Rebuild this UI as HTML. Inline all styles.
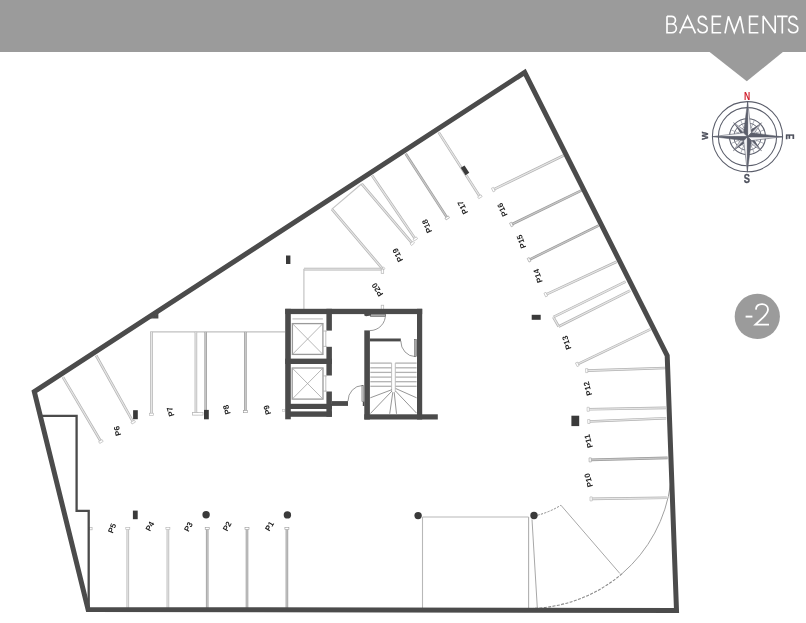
<!DOCTYPE html>
<html><head><meta charset="utf-8"><title>Basements -2</title>
<style>
html,body{margin:0;padding:0;background:#fff;}
body{width:806px;height:623px;overflow:hidden;font-family:"Liberation Sans",sans-serif;}
svg{display:block;font-family:"Liberation Sans",sans-serif;}
</style></head><body>
<svg width="806" height="623" viewBox="0 0 806 623">
<g opacity="0.999">
<rect x="0" y="0" width="806" height="52" fill="#9b9b9b"/>
<polygon points="709,51.5 783.5,51.5 746.8,81.3" fill="#9b9b9b"/>
<g role="img" aria-label="BASEMENTS" fill="none" stroke="#fff" stroke-width="1.65" stroke-linejoin="miter" stroke-miterlimit="3"><title>BASEMENTS</title>
<path d="M667 16.3 H671.6 A3.85 3.85 0 0 1 671.6 24 H667 M671.6 24 H672 A4.35 4.35 0 0 1 672 32.7 H667 V16.3"/>
<path d="M679.7 33.4 L687.6 16.2 L695.5 33.4 M682.7 27.3 H692.5"/>
<path d="M706.4 19.7 C705.7 17.5 704.3 16.3 702.4 16.3 C700.0 16.3 698.4 18 698.4 20.2 C698.4 25.6 707.2 23.2 707.2 28.5 C707.2 31 705.4 32.7 702.6 32.7 C700.0 32.7 698.3 31.3 697.8 28.7"/>
<path d="M721.2 16.3 H712.4 V32.7 H721.2 M712.4 24.2 H720.5"/>
<path d="M725 33.4 L728.4 16.4 L734.3 32.4 L740.2 16.4 L743.6 33.4"/>
<path d="M758.4 16.3 H749.6 V32.7 H758.4 M749.6 24.2 H757.7"/>
<path d="M763.2 33.4 V16 L775.2 33 V15.6"/>
<path d="M777 16.3 H787.6 M782.3 16.3 V33.4"/>
<path d="M797.0 19.7 C796.3 17.5 794.9 16.3 793.0 16.3 C790.6 16.3 789.0 18 789.0 20.2 C789.0 25.6 797.8 23.2 797.8 28.5 C797.8 31 796.0 32.7 793.2 32.7 C790.6 32.7 788.9 31.3 788.4 28.7"/>
</g>
<circle cx="757.3" cy="316.4" r="22.6" fill="#9b9b9b"/>
<line x1="745.6" y1="316.6" x2="752.4" y2="316.6" stroke="#fff" stroke-width="1.9"/>
<path d="M755.9 309.6 C756.1 305.6 758.9 304.2 762 304.2 C765.6 304.2 768 306.4 768 309.6 C768 312.4 766.3 314.4 763.2 317.4 L755.4 324.6 L769 324.6" fill="none" stroke="#fff" stroke-width="1.8" stroke-linejoin="miter"/>
<line x1="479.9" y1="196.7" x2="438.7" y2="132.4" stroke="#b2b2b2" stroke-width="2.6"/>
<line x1="479.9" y1="196.7" x2="438.7" y2="132.4" stroke="#e6e6e6" stroke-width="1.25"/>
<rect x="-1.1" y="-2.0" width="2.2" height="4.0" fill="#fff" stroke="#b2b2b2" stroke-width="0.6" transform="translate(479.9,196.7) rotate(-122.6)"/>
<line x1="447.2" y1="217.9" x2="405.7" y2="153.8" stroke="#9a9a9a" stroke-width="2.6"/>
<line x1="447.2" y1="217.9" x2="405.7" y2="153.8" stroke="#c8c8c8" stroke-width="1.25"/>
<rect x="-1.1" y="-2.0" width="2.2" height="4.0" fill="#fff" stroke="#9a9a9a" stroke-width="0.6" transform="translate(447.2,217.9) rotate(-122.9)"/>
<line x1="415.3" y1="238.9" x2="372.1" y2="175.6" stroke="#b2b2b2" stroke-width="2.6"/>
<line x1="415.3" y1="238.9" x2="372.1" y2="175.6" stroke="#e6e6e6" stroke-width="1.25"/>
<rect x="-1.1" y="-2.0" width="2.2" height="4.0" fill="#fff" stroke="#b2b2b2" stroke-width="0.6" transform="translate(415.3,238.9) rotate(-124.3)"/>
<line x1="412.3" y1="243.4" x2="361.7" y2="183.8" stroke="#b2b2b2" stroke-width="2.6"/>
<line x1="412.3" y1="243.4" x2="361.7" y2="183.8" stroke="#e6e6e6" stroke-width="1.25"/>
<rect x="-1.1" y="-2.0" width="2.2" height="4.0" fill="#fff" stroke="#b2b2b2" stroke-width="0.6" transform="translate(412.3,243.4) rotate(-130.3)"/>
<line x1="382.8" y1="269.1" x2="331.9" y2="209.1" stroke="#b2b2b2" stroke-width="2.6"/>
<line x1="382.8" y1="269.1" x2="331.9" y2="209.1" stroke="#e6e6e6" stroke-width="1.25"/>
<rect x="-1.1" y="-2.0" width="2.2" height="4.0" fill="#fff" stroke="#b2b2b2" stroke-width="0.6" transform="translate(382.8,269.1) rotate(-130.3)"/>
<line x1="331.9" y1="209.1" x2="361.7" y2="183.8" stroke="#c4c4c4" stroke-width="1.2"/>
<line x1="382.8" y1="269.1" x2="303.9" y2="269.1" stroke="#b2b2b2" stroke-width="2.6"/>
<line x1="382.8" y1="269.1" x2="303.9" y2="269.1" stroke="#e6e6e6" stroke-width="1.25"/>
<line x1="303.9" y1="269.1" x2="303.9" y2="309" stroke="#c4c4c4" stroke-width="1.2"/>
<rect x="381.2" y="269.1" width="2.5" height="4.2" fill="#fff" stroke="#b4b4b4" stroke-width="0.7"/>
<rect x="381.2" y="305.2" width="2.5" height="4.2" fill="#fff" stroke="#b4b4b4" stroke-width="0.7"/>
<line x1="493.3" y1="189.6" x2="563.6" y2="155.5" stroke="#b2b2b2" stroke-width="2.6"/>
<line x1="493.3" y1="189.6" x2="563.6" y2="155.5" stroke="#e6e6e6" stroke-width="1.25"/>
<rect x="-1.1" y="-2.0" width="2.2" height="4.0" fill="#fff" stroke="#b2b2b2" stroke-width="0.6" transform="translate(493.3,189.6) rotate(-25.9)"/>
<line x1="511.4" y1="224.5" x2="581.6" y2="190.4" stroke="#9a9a9a" stroke-width="2.6"/>
<line x1="511.4" y1="224.5" x2="581.6" y2="190.4" stroke="#c8c8c8" stroke-width="1.25"/>
<rect x="-1.1" y="-2.0" width="2.2" height="4.0" fill="#fff" stroke="#9a9a9a" stroke-width="0.6" transform="translate(511.4,224.5) rotate(-25.9)"/>
<line x1="529.1" y1="259.8" x2="598.5" y2="225.7" stroke="#9a9a9a" stroke-width="2.6"/>
<line x1="529.1" y1="259.8" x2="598.5" y2="225.7" stroke="#c8c8c8" stroke-width="1.25"/>
<rect x="-1.1" y="-2.0" width="2.2" height="4.0" fill="#fff" stroke="#9a9a9a" stroke-width="0.6" transform="translate(529.1,259.8) rotate(-26.2)"/>
<line x1="545.8" y1="294.6" x2="616.6" y2="261.8" stroke="#b2b2b2" stroke-width="2.6"/>
<line x1="545.8" y1="294.6" x2="616.6" y2="261.8" stroke="#e6e6e6" stroke-width="1.25"/>
<rect x="-1.1" y="-2.0" width="2.2" height="4.0" fill="#fff" stroke="#b2b2b2" stroke-width="0.6" transform="translate(545.8,294.6) rotate(-24.9)"/>
<line x1="553.3" y1="317.1" x2="625.6" y2="281.6" stroke="#b2b2b2" stroke-width="2.6"/>
<line x1="553.3" y1="317.1" x2="625.6" y2="281.6" stroke="#e6e6e6" stroke-width="1.25"/>
<line x1="558.7" y1="326.5" x2="630.1" y2="290.6" stroke="#b2b2b2" stroke-width="2.6"/>
<line x1="558.7" y1="326.5" x2="630.1" y2="290.6" stroke="#e6e6e6" stroke-width="1.25"/>
<line x1="553.3" y1="317.1" x2="558.7" y2="326.5" stroke="#b2b2b2" stroke-width="2.6"/>
<line x1="553.3" y1="317.1" x2="558.7" y2="326.5" stroke="#e6e6e6" stroke-width="1.25"/>
<line x1="577.3" y1="364.3" x2="650.3" y2="329.4" stroke="#b2b2b2" stroke-width="2.6"/>
<line x1="577.3" y1="364.3" x2="650.3" y2="329.4" stroke="#e6e6e6" stroke-width="1.25"/>
<rect x="-1.1" y="-2.0" width="2.2" height="4.0" fill="#fff" stroke="#b2b2b2" stroke-width="0.6" transform="translate(577.3,364.3) rotate(-25.6)"/>
<line x1="586.7" y1="370.6" x2="665.5" y2="368.0" stroke="#b2b2b2" stroke-width="2.6"/>
<line x1="586.7" y1="370.6" x2="665.5" y2="368.0" stroke="#e6e6e6" stroke-width="1.25"/>
<rect x="-1.1" y="-2.0" width="2.2" height="4.0" fill="#fff" stroke="#b2b2b2" stroke-width="0.6" transform="translate(586.7,370.6) rotate(-1.9)"/>
<line x1="588.2" y1="409.3" x2="665.9" y2="407.9" stroke="#b2b2b2" stroke-width="2.6"/>
<line x1="588.2" y1="409.3" x2="665.9" y2="407.9" stroke="#e6e6e6" stroke-width="1.25"/>
<rect x="-1.1" y="-2.0" width="2.2" height="4.0" fill="#fff" stroke="#b2b2b2" stroke-width="0.6" transform="translate(588.2,409.3) rotate(-1.0)"/>
<line x1="588.8" y1="421.5" x2="666.2" y2="418.2" stroke="#b2b2b2" stroke-width="2.6"/>
<line x1="588.8" y1="421.5" x2="666.2" y2="418.2" stroke="#e6e6e6" stroke-width="1.25"/>
<rect x="-1.1" y="-2.0" width="2.2" height="4.0" fill="#fff" stroke="#b2b2b2" stroke-width="0.6" transform="translate(588.8,421.5) rotate(-2.4)"/>
<line x1="590.2" y1="459.9" x2="667.6" y2="457.9" stroke="#9a9a9a" stroke-width="2.6"/>
<line x1="590.2" y1="459.9" x2="667.6" y2="457.9" stroke="#c8c8c8" stroke-width="1.25"/>
<rect x="-1.1" y="-2.0" width="2.2" height="4.0" fill="#fff" stroke="#9a9a9a" stroke-width="0.6" transform="translate(590.2,459.9) rotate(-1.5)"/>
<line x1="591.1" y1="498.9" x2="666.8" y2="497.8" stroke="#b2b2b2" stroke-width="2.6"/>
<line x1="591.1" y1="498.9" x2="666.8" y2="497.8" stroke="#e6e6e6" stroke-width="1.25"/>
<rect x="-1.1" y="-2.0" width="2.2" height="4.0" fill="#fff" stroke="#b2b2b2" stroke-width="0.6" transform="translate(591.1,498.9) rotate(-0.8)"/>
<line x1="100.9" y1="441.5" x2="62.9" y2="377.1" stroke="#b2b2b2" stroke-width="2.6"/>
<line x1="100.9" y1="441.5" x2="62.9" y2="377.1" stroke="#e6e6e6" stroke-width="1.25"/>
<rect x="-1.1" y="-2.0" width="2.2" height="4.0" fill="#fff" stroke="#b2b2b2" stroke-width="0.6" transform="translate(100.9,441.5) rotate(-120.5)"/>
<line x1="133.2" y1="422.1" x2="96.1" y2="355.5" stroke="#b2b2b2" stroke-width="2.6"/>
<line x1="133.2" y1="422.1" x2="96.1" y2="355.5" stroke="#e6e6e6" stroke-width="1.25"/>
<rect x="-1.1" y="-2.0" width="2.2" height="4.0" fill="#fff" stroke="#b2b2b2" stroke-width="0.6" transform="translate(133.2,422.1) rotate(-119.1)"/>
<line x1="150.2" y1="331.9" x2="285" y2="331.9" stroke="#c0c0c0" stroke-width="1.2"/>
<line x1="151.5" y1="414.3" x2="151.5" y2="331.9" stroke="#b2b2b2" stroke-width="2.6"/>
<line x1="151.5" y1="414.3" x2="151.5" y2="331.9" stroke="#e6e6e6" stroke-width="1.25"/>
<rect x="-1.1" y="-2.0" width="2.2" height="4.0" fill="#fff" stroke="#b2b2b2" stroke-width="0.6" transform="translate(151.5,414.3) rotate(-90.0)"/>
<line x1="195.9" y1="413.7" x2="195.9" y2="331.9" stroke="#b2b2b2" stroke-width="2.6"/>
<line x1="195.9" y1="413.7" x2="195.9" y2="331.9" stroke="#e6e6e6" stroke-width="1.25"/>
<rect x="-1.1" y="-2.0" width="2.2" height="4.0" fill="#fff" stroke="#b2b2b2" stroke-width="0.6" transform="translate(195.9,413.7) rotate(-90.0)"/>
<line x1="205.7" y1="411" x2="205.7" y2="331.9" stroke="#9a9a9a" stroke-width="2.6"/>
<line x1="205.7" y1="411" x2="205.7" y2="331.9" stroke="#c8c8c8" stroke-width="1.25"/>
<line x1="245.4" y1="411.6" x2="245.4" y2="331.9" stroke="#9a9a9a" stroke-width="2.6"/>
<line x1="245.4" y1="411.6" x2="245.4" y2="331.9" stroke="#c8c8c8" stroke-width="1.25"/>
<rect x="-1.1" y="-2.0" width="2.2" height="4.0" fill="#fff" stroke="#9a9a9a" stroke-width="0.6" transform="translate(245.4,411.6) rotate(-90.0)"/>
<rect x="192.6" y="412.6" width="10.4" height="2.5" fill="#fff" stroke="#b4b4b4" stroke-width="0.7"/>
<rect x="282.6" y="409.6" width="2.2" height="2" fill="#fff" stroke="#c4c4c4" stroke-width="0.6"/>
<line x1="127.8" y1="528.6" x2="127.8" y2="608" stroke="#b2b2b2" stroke-width="2.6"/>
<line x1="127.8" y1="528.6" x2="127.8" y2="608" stroke="#e6e6e6" stroke-width="1.25"/>
<rect x="-1.1" y="-2.0" width="2.2" height="4.0" fill="#fff" stroke="#b2b2b2" stroke-width="0.6" transform="translate(127.8,528.6) rotate(90.0)"/>
<line x1="167.9" y1="528.6" x2="167.9" y2="608" stroke="#b2b2b2" stroke-width="2.6"/>
<line x1="167.9" y1="528.6" x2="167.9" y2="608" stroke="#e6e6e6" stroke-width="1.25"/>
<rect x="-1.1" y="-2.0" width="2.2" height="4.0" fill="#fff" stroke="#b2b2b2" stroke-width="0.6" transform="translate(167.9,528.6) rotate(90.0)"/>
<line x1="207.2" y1="528.6" x2="207.2" y2="608" stroke="#9a9a9a" stroke-width="2.6"/>
<line x1="207.2" y1="528.6" x2="207.2" y2="608" stroke="#c8c8c8" stroke-width="1.25"/>
<rect x="-1.1" y="-2.0" width="2.2" height="4.0" fill="#fff" stroke="#9a9a9a" stroke-width="0.6" transform="translate(207.2,528.6) rotate(90.0)"/>
<line x1="247.0" y1="528.6" x2="247.0" y2="608" stroke="#9a9a9a" stroke-width="2.6"/>
<line x1="247.0" y1="528.6" x2="247.0" y2="608" stroke="#c8c8c8" stroke-width="1.25"/>
<rect x="-1.1" y="-2.0" width="2.2" height="4.0" fill="#fff" stroke="#9a9a9a" stroke-width="0.6" transform="translate(247.0,528.6) rotate(90.0)"/>
<line x1="286.9" y1="528.6" x2="286.9" y2="608" stroke="#9a9a9a" stroke-width="2.6"/>
<line x1="286.9" y1="528.6" x2="286.9" y2="608" stroke="#c8c8c8" stroke-width="1.25"/>
<rect x="-1.1" y="-2.0" width="2.2" height="4.0" fill="#fff" stroke="#9a9a9a" stroke-width="0.6" transform="translate(286.9,528.6) rotate(90.0)"/>
<rect x="89.5" y="527.4" width="2.6" height="2.4" fill="#fff" stroke="#b4b4b4" stroke-width="0.7"/>
<line x1="422.5" y1="517" x2="528.6" y2="517" stroke="#b8b8b8" stroke-width="1.1"/>
<line x1="422.5" y1="517" x2="422.5" y2="608" stroke="#b8b8b8" stroke-width="1.1"/>
<line x1="528.6" y1="517" x2="528.6" y2="608" stroke="#b0b0b0" stroke-width="1.1"/>
<line x1="532" y1="519.4" x2="537.3" y2="607.7" stroke="#a8a8a8" stroke-width="1.0"/>
<line x1="560.9" y1="505.2" x2="619.9" y2="573.5" stroke="#a8a8a8" stroke-width="1.0"/>
<path d="M537.5 515.2 Q550 512 560.9 505.2" fill="none" stroke="#8a8a8a" stroke-width="1" stroke-dasharray="2.2 1.3"/>
<path d="M670.6 483.7 A143.4 143.4 0 0 1 622.1 573.6" fill="none" stroke="#a0a0a0" stroke-width="1"/>
<path d="M622.1 573.6 A143.4 143.4 0 0 1 533.4 608.3" fill="none" stroke="#8a8a8a" stroke-width="1.1" stroke-dasharray="3 1.4"/>
<circle cx="206.1" cy="514.8" r="3.7" fill="#3a3a3a"/>
<circle cx="287.4" cy="514.9" r="3.7" fill="#3a3a3a"/>
<circle cx="418.1" cy="515.6" r="3.7" fill="#3a3a3a"/>
<circle cx="534" cy="515.5" r="3.7" fill="#3a3a3a"/>
<rect x="286" y="255.5" width="4.4" height="8.5" fill="#3a3a3a"/>
<rect x="-2.25" y="-4.4" width="4.5" height="8.8" fill="#3a3a3a" transform="translate(465.0,170.3) rotate(-32.7)"/>
<rect x="531.7" y="314.8" width="9" height="5" fill="#3a3a3a"/>
<rect x="571.4" y="415.7" width="7.8" height="10.4" fill="#3a3a3a"/>
<rect x="133.1" y="410.2" width="4.7" height="9" fill="#3a3a3a"/>
<rect x="204" y="409.9" width="4.8" height="9.4" fill="#3a3a3a"/>
<rect x="132.9" y="510.6" width="4.8" height="8.6" fill="#3a3a3a"/>
<polygon points="150.2,318.6 158.4,313.2 158.4,318.6" fill="#4b4b4b"/>
<path d="M41.5 415.8 H76.6 V510.9 H88.7 V608.5" fill="none" stroke="#4b4b4b" stroke-width="2.3"/>
<rect x="285.2" y="308.8" width="137.00" height="5.30" fill="#4b4b4b"/>
<rect x="285.2" y="308.8" width="5.60" height="110.50" fill="#4b4b4b"/>
<rect x="326.4" y="308.8" width="5.50" height="21.80" fill="#4b4b4b"/>
<rect x="326.4" y="346.8" width="5.50" height="28.70" fill="#4b4b4b"/>
<rect x="326.4" y="391.5" width="5.50" height="25.30" fill="#4b4b4b"/>
<rect x="285.2" y="358.6" width="46.70" height="5.40" fill="#4b4b4b"/>
<rect x="290" y="403.8" width="41.90" height="5.20" fill="#4b4b4b"/>
<rect x="290" y="411.4" width="41.90" height="5.40" fill="#4b4b4b"/>
<rect x="331.9" y="401.1" width="16.10" height="4.80" fill="#4b4b4b"/>
<rect x="417" y="308.8" width="5.20" height="110.70" fill="#4b4b4b"/>
<rect x="364.3" y="330.4" width="5.60" height="89.10" fill="#4b4b4b"/>
<rect x="364.3" y="414.3" width="73.50" height="5.20" fill="#4b4b4b"/>
<rect x="369.8" y="338.5" width="31.00" height="2.90" fill="#4b4b4b"/>
<rect x="292.4" y="323.6" width="30.5" height="30.8" fill="none" stroke="#9a9a9a" stroke-width="1.3"/>
<path d="M292.4 323.6 L322.9 354.4 M322.9 323.6 L292.4 354.4" stroke="#a5a5a5" stroke-width="0.8" fill="none"/>
<rect x="292.2" y="368" width="30.8" height="31.1" fill="none" stroke="#9a9a9a" stroke-width="1.3"/>
<path d="M292.2 368 L323 399.1 M323 368 L292.2 399.1" stroke="#a5a5a5" stroke-width="0.8" fill="none"/>
<line x1="292.4" y1="318.9" x2="322.9" y2="318.9" stroke="#c2c2c2" stroke-width="1.2"/>
<line x1="325.8" y1="330.6" x2="325.8" y2="346.8" stroke="#b0b0b0" stroke-width="0.8"/>
<line x1="323" y1="331.0" x2="327" y2="331.0" stroke="#b0b0b0" stroke-width="0.8"/>
<line x1="323" y1="346.40000000000003" x2="327" y2="346.40000000000003" stroke="#b0b0b0" stroke-width="0.8"/>
<line x1="325.8" y1="375.5" x2="325.8" y2="391.5" stroke="#b0b0b0" stroke-width="0.8"/>
<line x1="323" y1="375.9" x2="327" y2="375.9" stroke="#b0b0b0" stroke-width="0.8"/>
<line x1="323" y1="391.1" x2="327" y2="391.1" stroke="#b0b0b0" stroke-width="0.8"/>
<path d="M385.4 314.1 A15.5 15.5 0 0 1 369.9 330.6" fill="none" stroke="#8c8c8c" stroke-width="0.9"/>
<rect x="370.5" y="314.3" width="14.9" height="2.3" fill="#a8a8a8" stroke="#555" stroke-width="0.5"/>
<polygon points="364.3,314 371,314 371,315.6 366,316.2 364.3,315.4" fill="#4b4b4b"/>
<path d="M400.8 341 A14.6 15.6 0 0 0 415.2 356.6" fill="none" stroke="#8c8c8c" stroke-width="0.9"/>
<rect x="414.6" y="339.4" width="1.8" height="17.2" fill="#a8a8a8" stroke="#555" stroke-width="0.5"/>
<path d="M348 401.1 A14.6 15.6 0 0 1 362.4 385.5" fill="none" stroke="#8c8c8c" stroke-width="0.9"/>
<rect x="361.9" y="385.4" width="1.6" height="16.2" fill="#c8c8c8" stroke="#666" stroke-width="0.5"/>
<rect x="362.8" y="401.5" width="1.60" height="4.50" fill="#4b4b4b"/>
<line x1="370.3" y1="363.1" x2="391.6" y2="363.1" stroke="#b2b2b2" stroke-width="1.3"/>
<line x1="395.3" y1="363.1" x2="416.6" y2="363.1" stroke="#b2b2b2" stroke-width="1.3"/>
<line x1="370.3" y1="367.8" x2="391.6" y2="367.8" stroke="#b2b2b2" stroke-width="1.3"/>
<line x1="395.3" y1="367.8" x2="416.6" y2="367.8" stroke="#b2b2b2" stroke-width="1.3"/>
<line x1="370.3" y1="372.4" x2="391.6" y2="372.4" stroke="#b2b2b2" stroke-width="1.3"/>
<line x1="395.3" y1="372.4" x2="416.6" y2="372.4" stroke="#b2b2b2" stroke-width="1.3"/>
<line x1="370.3" y1="377.1" x2="391.6" y2="377.1" stroke="#b2b2b2" stroke-width="1.3"/>
<line x1="395.3" y1="377.1" x2="416.6" y2="377.1" stroke="#b2b2b2" stroke-width="1.3"/>
<line x1="370.3" y1="381.7" x2="391.6" y2="381.7" stroke="#b2b2b2" stroke-width="1.3"/>
<line x1="395.3" y1="381.7" x2="416.6" y2="381.7" stroke="#b2b2b2" stroke-width="1.3"/>
<line x1="370.3" y1="386.3" x2="391.6" y2="386.3" stroke="#b2b2b2" stroke-width="1.3"/>
<line x1="395.3" y1="386.3" x2="416.6" y2="386.3" stroke="#b2b2b2" stroke-width="1.3"/>
<path d="M391.6 363 V391.8 M395.3 363 V391.8" stroke="#b8b8b8" stroke-width="0.9" fill="none"/>
<line x1="391.8" y1="389.7" x2="370.3" y2="397.8" stroke="#8a8a8a" stroke-width="0.9"/>
<line x1="392" y1="391" x2="370.3" y2="413.6" stroke="#8a8a8a" stroke-width="0.9"/>
<line x1="392.8" y1="392.2" x2="389.7" y2="413.8" stroke="#8a8a8a" stroke-width="0.9"/>
<line x1="394.2" y1="392.2" x2="396.5" y2="413.8" stroke="#8a8a8a" stroke-width="0.9"/>
<line x1="395.5" y1="391" x2="416.6" y2="413.2" stroke="#8a8a8a" stroke-width="0.9"/>
<line x1="395.7" y1="388.5" x2="416.6" y2="397.8" stroke="#8a8a8a" stroke-width="0.9"/>
<polygon points="524.7,72.4 667.2,355.7 676.5,610.5 88.1,609.5 34.3,391.6" fill="none" stroke="#4b4b4b" stroke-width="5" stroke-linejoin="miter" stroke-miterlimit="10"/>
<text x="0" y="0" text-anchor="middle" dominant-baseline="central" font-size="7.9" font-weight="bold" fill="#222" transform="translate(462.9,207.4) rotate(-117)">P17</text>
<text x="0" y="0" text-anchor="middle" dominant-baseline="central" font-size="7.9" font-weight="bold" fill="#222" transform="translate(427.2,226.1) rotate(-113)">P18</text>
<text x="0" y="0" text-anchor="middle" dominant-baseline="central" font-size="7.9" font-weight="bold" fill="#222" transform="translate(398.0,255.0) rotate(-116)">P19</text>
<text x="0" y="0" text-anchor="middle" dominant-baseline="central" font-size="7.9" font-weight="bold" fill="#222" transform="translate(377.6,289.6) rotate(-122)">P20</text>
<text x="0" y="0" text-anchor="middle" dominant-baseline="central" font-size="7.9" font-weight="bold" fill="#222" transform="translate(502.6,209.6) rotate(-115)">P16</text>
<text x="0" y="0" text-anchor="middle" dominant-baseline="central" font-size="7.9" font-weight="bold" fill="#222" transform="translate(521.6,241.5) rotate(-110)">P15</text>
<text x="0" y="0" text-anchor="middle" dominant-baseline="central" font-size="7.9" font-weight="bold" fill="#222" transform="translate(538.1,275.8) rotate(-108)">P14</text>
<text x="0" y="0" text-anchor="middle" dominant-baseline="central" font-size="7.9" font-weight="bold" fill="#222" transform="translate(566.9,342.6) rotate(-108)">P13</text>
<text x="0" y="0" text-anchor="middle" dominant-baseline="central" font-size="7.9" font-weight="bold" fill="#222" transform="translate(587.9,388.5) rotate(-105)">P12</text>
<text x="0" y="0" text-anchor="middle" dominant-baseline="central" font-size="7.9" font-weight="bold" fill="#222" transform="translate(588.8,441.1) rotate(-105)">P11</text>
<text x="0" y="0" text-anchor="middle" dominant-baseline="central" font-size="7.9" font-weight="bold" fill="#222" transform="translate(588.8,480.1) rotate(-105)">P10</text>
<text x="0" y="0" text-anchor="middle" dominant-baseline="central" font-size="7.9" font-weight="bold" fill="#222" transform="translate(117.6,430.9) rotate(-105)">P6</text>
<text x="0" y="0" text-anchor="middle" dominant-baseline="central" font-size="7.9" font-weight="bold" fill="#222" transform="translate(170.7,411.7) rotate(-107)">P7</text>
<text x="0" y="0" text-anchor="middle" dominant-baseline="central" font-size="7.9" font-weight="bold" fill="#222" transform="translate(227.0,409.6) rotate(-107)">P8</text>
<text x="0" y="0" text-anchor="middle" dominant-baseline="central" font-size="7.9" font-weight="bold" fill="#222" transform="translate(267.5,409.9) rotate(-107)">P9</text>
<text x="0" y="0" text-anchor="middle" dominant-baseline="central" font-size="7.9" font-weight="bold" fill="#222" transform="translate(112.2,528.3) rotate(-68)">P5</text>
<text x="0" y="0" text-anchor="middle" dominant-baseline="central" font-size="7.9" font-weight="bold" fill="#222" transform="translate(150.1,526.4) rotate(-62)">P4</text>
<text x="0" y="0" text-anchor="middle" dominant-baseline="central" font-size="7.9" font-weight="bold" fill="#222" transform="translate(188.6,526.9) rotate(-62)">P3</text>
<text x="0" y="0" text-anchor="middle" dominant-baseline="central" font-size="7.9" font-weight="bold" fill="#222" transform="translate(227.4,526.4) rotate(-62)">P2</text>
<text x="0" y="0" text-anchor="middle" dominant-baseline="central" font-size="7.9" font-weight="bold" fill="#222" transform="translate(269.7,526.4) rotate(-58)">P1</text>
<g transform="translate(747.5,136.7)">
<circle r="35.1" fill="none" stroke="#5b5e6b" stroke-width="1.05"/>
<circle r="29.1" fill="none" stroke="#5b5e6b" stroke-width="1.05"/>
<circle r="18" fill="none" stroke="#5f626f" stroke-width="1.1"/>
<circle r="13.7" fill="none" stroke="#6f727e" stroke-width="1"/>
<circle r="9.8" fill="none" stroke="#9b9ea8" stroke-width="0.8"/>
<line x1="0" y1="-9.8" x2="0" y2="-18" stroke="#8b8e9a" stroke-width="0.6" transform="rotate(22.5)"/>
<line x1="0" y1="-9.8" x2="0" y2="-18" stroke="#8b8e9a" stroke-width="0.6" transform="rotate(67.5)"/>
<line x1="0" y1="-9.8" x2="0" y2="-18" stroke="#8b8e9a" stroke-width="0.6" transform="rotate(112.5)"/>
<line x1="0" y1="-9.8" x2="0" y2="-18" stroke="#8b8e9a" stroke-width="0.6" transform="rotate(157.5)"/>
<line x1="0" y1="-9.8" x2="0" y2="-18" stroke="#8b8e9a" stroke-width="0.6" transform="rotate(202.5)"/>
<line x1="0" y1="-9.8" x2="0" y2="-18" stroke="#8b8e9a" stroke-width="0.6" transform="rotate(247.5)"/>
<line x1="0" y1="-9.8" x2="0" y2="-18" stroke="#8b8e9a" stroke-width="0.6" transform="rotate(292.5)"/>
<line x1="0" y1="-9.8" x2="0" y2="-18" stroke="#8b8e9a" stroke-width="0.6" transform="rotate(337.5)"/>
<polygon points="0,-19.8 -2.9,-5 0,0" fill="#5b5e6b" transform="rotate(45)"/>
<polygon points="0,-19.8 2.9,-5 0,0" fill="#dcdde2" stroke="#5b5e6b" stroke-width="0.5" transform="rotate(45)"/>
<polygon points="0,-19.8 -2.9,-5 0,0" fill="#5b5e6b" transform="rotate(135)"/>
<polygon points="0,-19.8 2.9,-5 0,0" fill="#dcdde2" stroke="#5b5e6b" stroke-width="0.5" transform="rotate(135)"/>
<polygon points="0,-19.8 -2.9,-5 0,0" fill="#5b5e6b" transform="rotate(225)"/>
<polygon points="0,-19.8 2.9,-5 0,0" fill="#dcdde2" stroke="#5b5e6b" stroke-width="0.5" transform="rotate(225)"/>
<polygon points="0,-19.8 -2.9,-5 0,0" fill="#5b5e6b" transform="rotate(315)"/>
<polygon points="0,-19.8 2.9,-5 0,0" fill="#dcdde2" stroke="#5b5e6b" stroke-width="0.5" transform="rotate(315)"/>
<polygon points="0,-35.4 3.9,-4.1 0,0" fill="#f4f4f6" stroke="#5b5e6b" stroke-width="0.6" transform="rotate(0)"/>
<polygon points="0.2,-35.4 -3.9,-4.1 0.2,0" fill="#5b5e6b" stroke="#5b5e6b" stroke-width="0.5" transform="rotate(0)"/>
<polygon points="0,-35.4 3.9,-4.1 0,0" fill="#f4f4f6" stroke="#5b5e6b" stroke-width="0.6" transform="rotate(90)"/>
<polygon points="0.2,-35.4 -3.9,-4.1 0.2,0" fill="#5b5e6b" stroke="#5b5e6b" stroke-width="0.5" transform="rotate(90)"/>
<polygon points="0,-35.4 3.9,-4.1 0,0" fill="#f4f4f6" stroke="#5b5e6b" stroke-width="0.6" transform="rotate(180)"/>
<polygon points="0.2,-35.4 -3.9,-4.1 0.2,0" fill="#5b5e6b" stroke="#5b5e6b" stroke-width="0.5" transform="rotate(180)"/>
<polygon points="0,-35.4 3.9,-4.1 0,0" fill="#f4f4f6" stroke="#5b5e6b" stroke-width="0.6" transform="rotate(270)"/>
<polygon points="0.2,-35.4 -3.9,-4.1 0.2,0" fill="#5b5e6b" stroke="#5b5e6b" stroke-width="0.5" transform="rotate(270)"/>
</g>
<text x="747.1" y="99.5" text-anchor="middle" font-size="10" font-weight="bold" fill="#d0202e" textLength="6.2" lengthAdjust="spacingAndGlyphs">N</text>
<text x="746.9" y="183.2" text-anchor="middle" font-size="12" font-weight="bold" fill="#4d505c" stroke="#4d505c" stroke-width="0.35" textLength="6.2" lengthAdjust="spacingAndGlyphs">S</text>
<text x="0" y="0" text-anchor="middle" font-size="10.4" font-weight="bold" fill="#4d505c" stroke="#4d505c" stroke-width="0.35" textLength="5.4" lengthAdjust="spacingAndGlyphs" transform="translate(786,136.7) rotate(90)">E</text>
<text x="0" y="0" text-anchor="middle" font-size="9.6" font-weight="bold" fill="#4d505c" stroke="#4d505c" stroke-width="0.35" textLength="8" lengthAdjust="spacingAndGlyphs" transform="translate(708,135.8) rotate(-90)">W</text>
</g>
</svg>
</body></html>
